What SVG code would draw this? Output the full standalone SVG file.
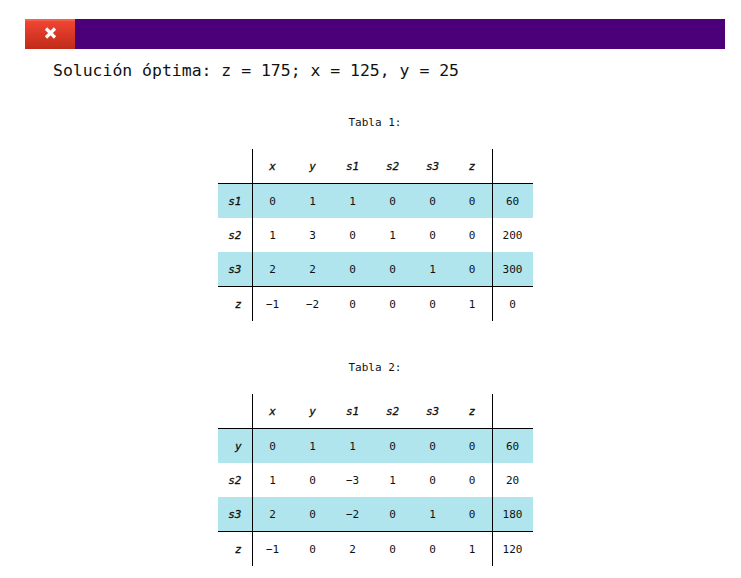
<svg xmlns="http://www.w3.org/2000/svg" width="741" height="578" viewBox="0 0 741 578">
<defs>
<linearGradient id="red" x1="0" y1="0" x2="0" y2="1"><stop offset="0" stop-color="#f44734"/><stop offset="1" stop-color="#c02a1a"/></linearGradient>
</defs>
<style>
text{font-family:"DejaVu Sans Mono","Liberation Mono",monospace;fill:#111}
.t{font-size:11px;text-anchor:middle}
.i{font-style:italic;font-weight:normal;stroke:#111;stroke-width:.3px}
.r{font-size:11px;text-anchor:end;font-style:italic;font-weight:normal;stroke:#111;stroke-width:.3px}
.band{fill:#b0e5ed}
.rule{stroke:#000;stroke-width:1;fill:none}
</style>
<rect width="741" height="578" fill="#fff"/>
<g id="bar">
<rect x="25" y="19" width="700" height="30" fill="#4b0079"/>
<rect x="25" y="19" width="50" height="30" fill="url(#red)"/>
<rect x="25" y="19.500" width="50" height="1" fill="#f77a68"/>
<path d="M46 28.500 L55 37.500 M55 28.500 L46 37.500" stroke="#fff" stroke-width="3.2" fill="none"/>
</g>
<text id="result" x="53" y="76" font-size="16.45" textLength="406" lengthAdjust="spacingAndGlyphs">Solución óptima: z = 175; x = 125, y = 25</text>

<g id="tabla1">
<text class="t" x="375" y="126">Tabla 1:</text>
<rect class="band" x="218" y="183" width="315" height="35"/>
<rect class="band" x="218" y="252" width="315" height="35"/>
<text class="t i" x="272.500" y="170">x</text><text class="t i" x="312.500" y="170">y</text><text class="t i" x="352.500" y="170">s1</text><text class="t i" x="392.500" y="170">s2</text><text class="t i" x="432.500" y="170">s3</text><text class="t i" x="472" y="170">z</text>
<text class="r" x="241.500" y="205">s1</text><text class="t" x="272.500" y="205">0</text><text class="t" x="312.500" y="205">1</text><text class="t" x="352.500" y="205">1</text><text class="t" x="392.500" y="205">0</text><text class="t" x="432.500" y="205">0</text><text class="t" x="472" y="205">0</text><text class="t" x="512.500" y="205">60</text>
<text class="r" x="241.500" y="239">s2</text><text class="t" x="272.500" y="239">1</text><text class="t" x="312.500" y="239">3</text><text class="t" x="352.500" y="239">0</text><text class="t" x="392.500" y="239">1</text><text class="t" x="432.500" y="239">0</text><text class="t" x="472" y="239">0</text><text class="t" x="512.500" y="239">200</text>
<text class="r" x="241.500" y="273">s3</text><text class="t" x="272.500" y="273">2</text><text class="t" x="312.500" y="273">2</text><text class="t" x="352.500" y="273">0</text><text class="t" x="392.500" y="273">0</text><text class="t" x="432.500" y="273">1</text><text class="t" x="472" y="273">0</text><text class="t" x="512.500" y="273">300</text>
<text class="r" x="241.500" y="308">z</text><text class="t" x="272.500" y="308">−1</text><text class="t" x="312.500" y="308">−2</text><text class="t" x="352.500" y="308">0</text><text class="t" x="392.500" y="308">0</text><text class="t" x="432.500" y="308">0</text><text class="t" x="472" y="308">1</text><text class="t" x="512.500" y="308">0</text>
<path class="rule" d="M252.500 149V321M492.500 149V321M218 183.500H533M218 286.500H533"/>
</g>

<g id="tabla2">
<text class="t" x="375" y="371">Tabla 2:</text>
<rect class="band" x="218" y="428" width="315" height="35"/>
<rect class="band" x="218" y="497" width="315" height="35"/>
<text class="t i" x="272.500" y="415">x</text><text class="t i" x="312.500" y="415">y</text><text class="t i" x="352.500" y="415">s1</text><text class="t i" x="392.500" y="415">s2</text><text class="t i" x="432.500" y="415">s3</text><text class="t i" x="472" y="415">z</text>
<text class="r" x="241.500" y="450">y</text><text class="t" x="272.500" y="450">0</text><text class="t" x="312.500" y="450">1</text><text class="t" x="352.500" y="450">1</text><text class="t" x="392.500" y="450">0</text><text class="t" x="432.500" y="450">0</text><text class="t" x="472" y="450">0</text><text class="t" x="512.500" y="450">60</text>
<text class="r" x="241.500" y="484">s2</text><text class="t" x="272.500" y="484">1</text><text class="t" x="312.500" y="484">0</text><text class="t" x="352.500" y="484">−3</text><text class="t" x="392.500" y="484">1</text><text class="t" x="432.500" y="484">0</text><text class="t" x="472" y="484">0</text><text class="t" x="512.500" y="484">20</text>
<text class="r" x="241.500" y="518">s3</text><text class="t" x="272.500" y="518">2</text><text class="t" x="312.500" y="518">0</text><text class="t" x="352.500" y="518">−2</text><text class="t" x="392.500" y="518">0</text><text class="t" x="432.500" y="518">1</text><text class="t" x="472" y="518">0</text><text class="t" x="512.500" y="518">180</text>
<text class="r" x="241.500" y="553">z</text><text class="t" x="272.500" y="553">−1</text><text class="t" x="312.500" y="553">0</text><text class="t" x="352.500" y="553">2</text><text class="t" x="392.500" y="553">0</text><text class="t" x="432.500" y="553">0</text><text class="t" x="472" y="553">1</text><text class="t" x="512.500" y="553">120</text>
<path class="rule" d="M252.500 394V566M492.500 394V566M218 428.500H533M218 531.500H533"/>
</g>
</svg>
